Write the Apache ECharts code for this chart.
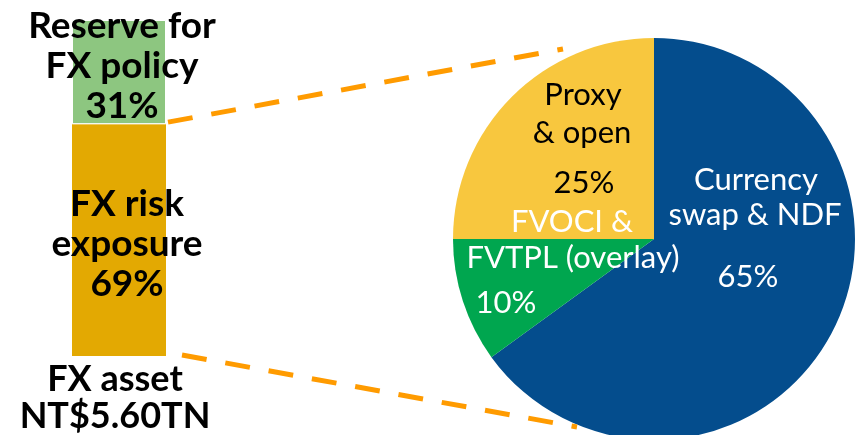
<!DOCTYPE html>
<html>
<head>
<meta charset="utf-8">
<script src="https://cdn.jsdelivr.net/npm/echarts@6/dist/echarts.min.js"></script>
<style>
  html, body { margin: 0; padding: 0; background: #fff; }
  #main { width: 859px; height: 435px; }
</style>
</head>
<body>
<div id="main"></div>
<script>
// 左侧柱：外汇资产构成
const barCategory = ['FX asset\nNT$5.60TN'];
const barNames = ['FX risk\nexposure', 'Reserve for\nFX policy'];
const barValues = [69, 31];

// 右侧饼：风险敞口对冲方式
const pieNames = ['Currency\nswap & NDF', 'FVOCI &\nFVTPL (overlay)', 'Proxy\n& open'];
const pieValues = [65, 10, 25];

const FONT = 'Lato, "Open Sans", sans-serif';
const pieCenter = [654, 239];
const pieRadius = 201;

const myChart = echarts.init(document.getElementById('main'), null, { renderer: 'canvas' });

const barLabel = {
  show: true,
  position: 'inside',
  color: '#000',
  fontFamily: FONT,
  fontWeight: 'bold',
  fontSize: 37,
  lineHeight: 40,
  formatter: p => p.seriesName + '\n' + p.value + '%'
};

// 饼图文字（逐行放置）
function pieText(lines, color) {
  return lines.map(l => ({
    type: 'text',
    x: l[1], y: l[2],
    style: {
      text: l[0], fill: color, fontFamily: FONT, fontSize: 31,
      align: 'center', verticalAlign: 'middle'
    },
    z: 10
  }));
}
const p0 = pieNames[0].split('\n'), p1 = pieNames[1].split('\n'), p2 = pieNames[2].split('\n');
const pieLabels = [].concat(
  pieText([[p2[0], 583, 95], [p2[1], 582, 133], [pieValues[2] + '%', 584, 183]], '#000'),
  pieText([[p0[0], 756, 180], [p0[1], 755, 215], [pieValues[0] + '%', 748, 277]], '#fff'),
  pieText([[p1[0], 572, 222], [p1[1], 573, 258], [pieValues[1] + '%', 506, 303]], '#fff')
);

const option = {
  animation: false,
  grid: { left: 72, width: 94, top: 20, bottom: 76, containLabel: false },
  xAxis: {
    type: 'category',
    data: barCategory,
    axisLine: { show: false },
    axisTick: { show: false },
    axisLabel: {
      color: '#000', fontFamily: FONT, fontWeight: 'bold', fontSize: 36,
      lineHeight: 37, margin: 5, padding: [0, 8, 0, 0]
    }
  },
  yAxis: { type: 'value', min: 0, max: 100, show: false },
  series: [
    {
      name: barNames[0], type: 'bar', stack: 'fx', barWidth: '100%',
      data: [barValues[0]],
      itemStyle: { color: '#E3A902' },
      label: Object.assign({}, barLabel, { offset: [8, 4] })
    },
    {
      name: barNames[1], type: 'bar', stack: 'fx', barWidth: '100%',
      data: [barValues[1]],
      itemStyle: { color: '#8DC680', borderColor: '#fff', borderWidth: 1 },
      label: Object.assign({}, barLabel, { offset: [3, -6] })
    },
    {
      type: 'pie',
      center: pieCenter,
      radius: pieRadius,
      startAngle: 90,
      clockwise: true,
      label: { show: false },
      labelLine: { show: false },
      emphasis: { disabled: true },
      data: pieNames.map((n, i) => ({
        name: n, value: pieValues[i],
        itemStyle: { color: ['#044D8D', '#00A64F', '#F8C73E'][i] }
      }))
    }
  ]
};

myChart.setOption(option);

// 虚线：从柱的分界处连到饼
const topPt = myChart.convertToPixel({ gridIndex: 0 }, [0, barValues[0]]);
const botPt = myChart.convertToPixel({ gridIndex: 0 }, [0, 0]);
const barRight = 166;
const dashStyle = { stroke: '#FF9B00', lineWidth: 5, lineDash: [25, 19] };
myChart.setOption({
  graphic: [
    { type: 'line', shape: { x1: barRight + 2, y1: topPt[1] - 2, x2: 563, y2: 49 }, style: dashStyle, z: 5 },
    { type: 'line', shape: { x1: barRight + 16, y1: botPt[1] - 1, x2: 577, y2: 427 }, style: dashStyle, z: 5 }
  ].concat(pieLabels)
});
</script>
</body>
</html>
